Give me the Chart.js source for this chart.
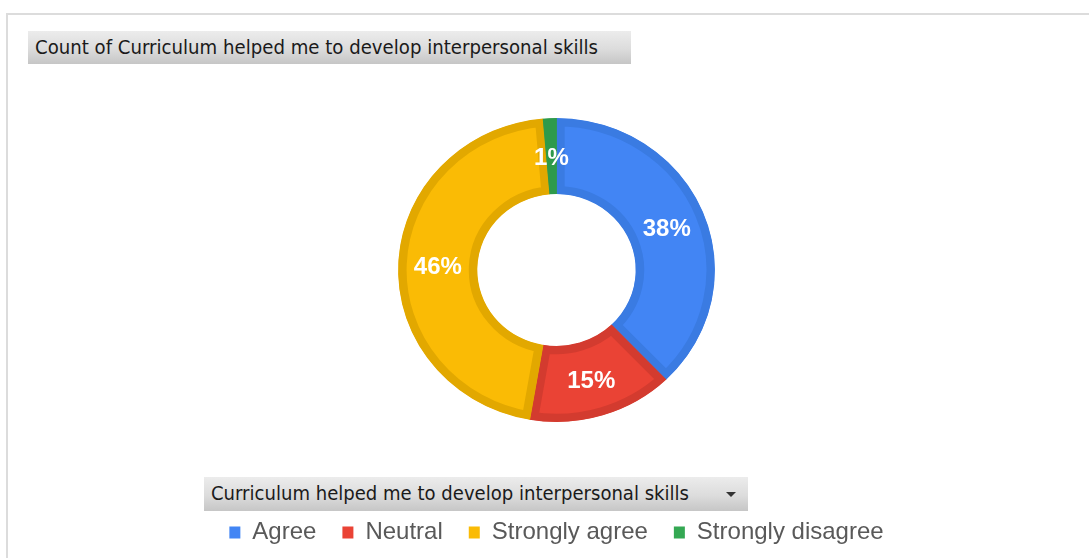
<!DOCTYPE html>
<html>
<head>
<meta charset="utf-8">
<script src="https://cdn.jsdelivr.net/npm/chart.js@4.4.1/dist/chart.umd.min.js"></script>
<style>
  html, body { margin: 0; padding: 0; background: #ffffff; }
  body { width: 1089px; height: 558px; position: relative; overflow: hidden; }
  #frame {
    position: absolute; left: 6px; top: 13px; right: -10px; bottom: -10px;
    border-left: 2px solid #dcdcdc; border-top: 2px solid #dcdcdc;
  }
  #chart { position: absolute; left: 0; top: 0; }
  .field {
    position: absolute;
    background: linear-gradient(to bottom, #ececec 0%, #dcdcdc 55%, #c6c6c6 100%);
    color: #1a1a1a;
    font-family: "DejaVu Sans Condensed", "DejaVu Sans", Tahoma, sans-serif;
    font-stretch: condensed;
    font-size: 19px;
    white-space: nowrap;
    overflow: hidden;
  }
  .field span { position: absolute; transform-origin: 0 50%; }
  #titleField { left: 28px; top: 31px; width: 603px; height: 33px; }
  #titleField span { left: 7px; top: 5px; }
  #legendField { left: 204px; top: 477px; width: 544px; height: 34px; }
  #legendField span { left: 7px; top: 5px; }
  .tri {
    position: absolute; left: 522px; top: 15px; width: 0; height: 0;
    border-left: 5px solid transparent; border-right: 5px solid transparent;
    border-top: 5px solid #333;
  }
</style>
</head>
<body>
<div id="frame"></div>
<canvas id="chart" width="1089" height="558"></canvas>
<div class="field" id="titleField"><span data-w="563">Count of Curriculum helped me to develop interpersonal skills</span></div>
<div class="field" id="legendField"><span data-w="478">Curriculum helped me to develop interpersonal skills</span><div class="tri"></div></div>
<script>
// Responses per answer
const categories = ['Agree', 'Neutral', 'Strongly agree', 'Strongly disagree'];
const counts = [28, 11, 34, 1];
const fillColors = ['#4285F4', '#EA4335', '#FABB05', '#34A853'];
const edgeColors = ['#3A7BE2', '#D33B2F', '#E2A800', '#2E9A4B'];

// Ring is drawn slightly wider than tall
const ringScaleX = 1.022;
const ringScaleY = 0.98;

// Fit the field-button captions to their widths
document.querySelectorAll('.field span').forEach(function (s) {
  const target = parseFloat(s.dataset.w);
  const w = s.getBoundingClientRect().width;
  if (w > 0) s.style.transform = 'scaleX(' + (target / w) + ')';
});

// Ring aspect and percentage labels on each slice
const sliceLabels = {
  id: 'sliceLabels',
  beforeDatasetsDraw(chart) {
    const arc0 = chart.getDatasetMeta(0).data[0];
    const ctx = chart.ctx;
    ctx.save();
    ctx.translate(arc0.x, arc0.y);
    ctx.scale(ringScaleX, ringScaleY);
    ctx.translate(-arc0.x, -arc0.y);
  },
  afterDatasetsDraw(chart) {
    const ctx = chart.ctx;
    ctx.restore();
    const data = chart.data.datasets[0].data;
    const total = data.reduce((a, b) => a + b, 0);
    const meta = chart.getDatasetMeta(0);
    const size = 24;
    ctx.save();
    ctx.font = 'bold ' + size + 'px "Liberation Sans", Arial, sans-serif';
    ctx.fillStyle = '#ffffff';
    ctx.textAlign = 'center';
    ctx.textBaseline = 'alphabetic';
    meta.data.forEach((arc, i) => {
      const p = arc.getCenterPoint();
      const x = arc.x + (p.x - arc.x) * ringScaleX;
      const y = arc.y + (p.y - arc.y) * ringScaleY;
      // centre the digits' cap height on the slice midpoint
      ctx.fillText(Math.round(data[i] / total * 100) + '%', x, y + size * 0.36);
    });
    ctx.restore();
  }
};

new Chart(document.getElementById('chart'), {
  type: 'doughnut',
  data: {
    labels: categories,
    datasets: [{
      data: counts,
      backgroundColor: fillColors,
      borderColor: edgeColors,
      borderWidth: 8,
      borderAlign: 'inner',
      borderJoinStyle: 'miter',
      radius: 155,
      cutout: '50%'
    }]
  },
  options: {
    responsive: false,
    animation: false,
    devicePixelRatio: 1,
    layout: { padding: { left: 24, right: 0, top: 45.5, bottom: 3.5 } },
    plugins: {
      tooltip: { enabled: false },
      legend: {
        position: 'bottom',
        labels: {
          boxWidth: 11,
          boxHeight: 12,
          padding: 26,
          color: '#595959',
          font: { family: '"Liberation Sans", Arial, sans-serif', size: 24 },
          generateLabels(chart) {
            const items = Chart.overrides.doughnut.plugins.legend.labels.generateLabels(chart);
            items.forEach(it => { it.lineWidth = 0; it.strokeStyle = 'rgba(0,0,0,0)'; });
            return items;
          }
        }
      }
    }
  },
  plugins: [sliceLabels]
});
</script>
</body>
</html>
